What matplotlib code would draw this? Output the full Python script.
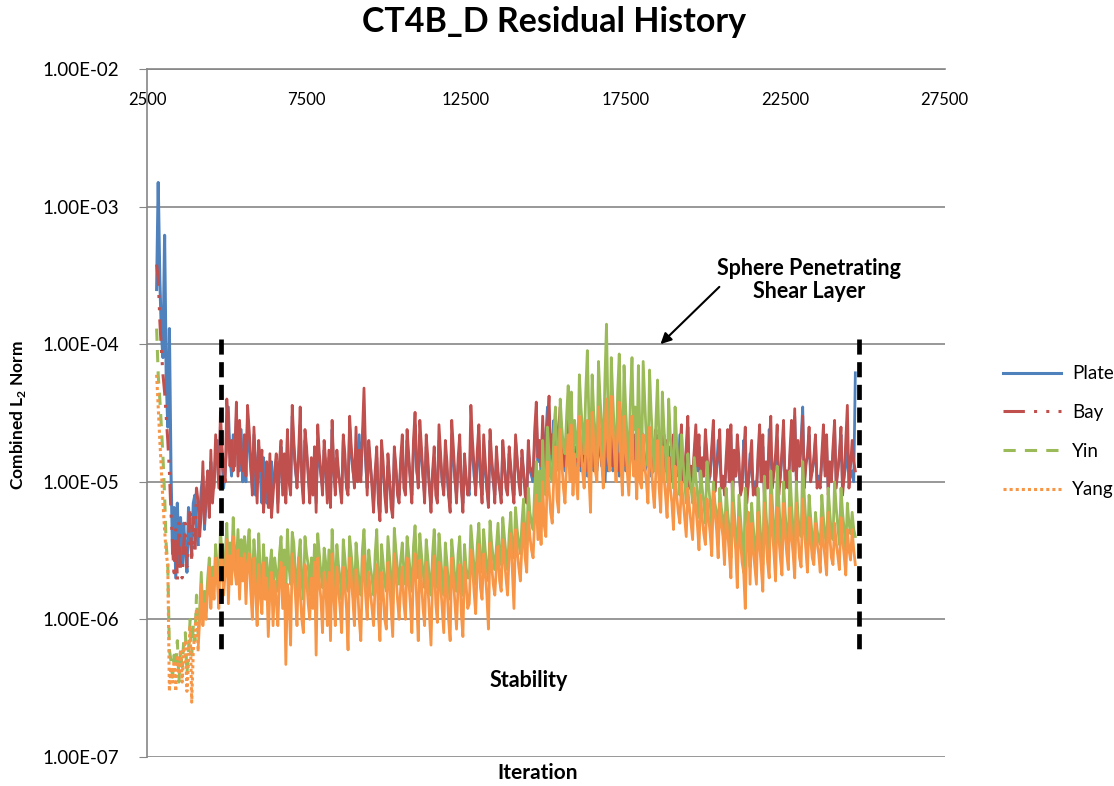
import numpy as np
import matplotlib.pyplot as plt
from matplotlib.ticker import FuncFormatter, NullLocator

plt.rcParams['font.family'] = ['Lato', 'DejaVu Sans']
plt.rcParams['mathtext.fontset'] = 'custom'
plt.rcParams['mathtext.rm'] = 'Lato'
plt.rcParams['mathtext.bf'] = 'Lato:bold'

# one sample every 50 iterations
iteration = np.arange(2800, 24701, 50)

# residuals in units of 1e-6 (one row = 1000 iterations)
plate = [
    250, 1500, 300, 120, 80, 620, 60, 25, 130, 12, 3.0, 6.5, 2.0, 7, 2.5, 5.5,
    2.5, 5, 3, 2.2, 6.5, 4, 3, 7, 8, 4.5, 3.5, 6, 9, 11, 4.5, 7, 12, 6, 14, 9,
    9, 16, 20, 11, 26, 14, 9, 12, 18, 35, 15, 11, 22, 13, 30, 19, 12, 24, 10, 16,
    10, 30, 18, 12, 9, 22, 8, 14, 18, 11, 7, 15, 10, 7, 13, 6.5, 14, 9, 11, 14,
    7, 12, 18, 9, 14, 8, 22, 11, 9, 30, 17, 12, 10, 14, 26, 11, 8, 20, 16, 12,
    8, 13, 9, 16, 7, 20, 14, 11, 9, 17, 12, 8, 15, 7.5, 24, 12, 9, 15, 11, 10,
    8, 20, 14, 10, 9, 25, 16, 12, 10, 15, 11, 22, 11, 20, 30, 14, 9, 18, 13, 10,
    7, 11, 15, 8, 6, 17, 12, 9, 7, 13, 10, 7.5, 6.5, 16, 12, 9, 8, 13, 18, 10,
    9, 20, 14, 11, 8, 17, 26, 12, 10, 22, 15, 11, 8, 18, 13, 9, 7, 11, 15, 9,
    8, 20, 14, 10, 9, 16, 12, 8, 7, 22, 15, 10, 8, 13, 18, 9, 7, 14, 10, 9,
    8, 24, 16, 11, 9, 14, 20, 10, 8, 17, 12, 9, 7, 20, 13, 10, 8, 15, 11, 9,
    8, 18, 13, 10, 9, 16, 12, 10, 8, 20, 14, 11, 9, 15, 12, 9, 8, 17, 12, 11,
    10, 20, 30, 14, 18, 12, 25, 13, 22, 35, 11, 15, 19, 28, 12, 14, 21, 30, 14, 16,
    12, 25, 18, 14, 22, 11, 16, 13, 19, 26, 12, 14, 16, 22, 11, 13, 20, 15, 12, 13,
    12, 16, 22, 13, 20, 10, 15, 12, 17, 24, 12, 13, 15, 20, 11, 12, 22, 16, 12, 13,
    12, 22, 16, 13, 15, 20, 11, 12, 16, 22, 12, 13, 20, 15, 11, 12, 16, 22, 12, 13,
    11, 20, 15, 12, 14, 18, 10, 11, 15, 20, 11, 12, 22, 15, 10, 11, 16, 25, 9, 12,
    10, 15, 22, 12, 18, 9, 13, 11, 20, 14, 10, 11, 16, 24, 9, 12, 20, 14, 10, 11,
    9, 13, 18, 10, 22, 8, 15, 11, 17, 12, 9, 10, 20, 14, 8, 10, 16, 12, 9, 10,
    9, 14, 20, 10, 18, 8, 13, 10, 24, 16, 10, 12, 14, 20, 9, 11, 15, 22, 10, 12,
    10, 15, 22, 12, 30, 11, 18, 13, 20, 35, 10, 14, 15, 22, 11, 12, 14, 20, 10, 11,
    10, 14, 20, 12, 18, 9, 13, 11, 16, 24, 10, 12, 15, 22, 9, 11, 13, 18, 10, 11,
    12, 10, 62,
]
bay = [
    380, 300, 150, 90, 60, 45, 30, 20, 12, 6, 3.5, 2.0, 4.5, 1.9, 5.0, 2.2,
    2.0, 3.5, 5, 2.4, 3.5, 6.5, 2.6, 5.5, 3, 9, 7, 4, 6, 14, 5, 8, 12, 5.5, 17, 7,
    10, 22, 14, 9, 32, 18, 12, 10, 40, 25, 13, 20, 12, 16, 38, 11, 28, 14, 12, 22,
    11, 36, 24, 15, 8, 25, 13, 7, 20, 12, 17, 6, 9, 14, 6.5, 16, 5.5, 8, 12, 16,
    6, 14, 20, 8, 16, 7, 24, 10, 8, 36, 20, 13, 9, 16, 35, 10, 7, 24, 18, 11,
    7, 15, 8, 18, 6, 26, 16, 12, 8, 20, 14, 7, 17, 6.5, 28, 13, 8, 17, 12, 9,
    7, 22, 16, 9, 8, 30, 18, 13, 9, 25, 10, 17, 10, 22, 48, 16, 8, 20, 14, 9,
    6, 12, 18, 7, 5.2, 20, 14, 8, 6, 16, 11, 6.5, 5.5, 18, 13, 8, 7, 15, 22, 9,
    8, 24, 16, 10, 7, 20, 32, 13, 9, 28, 18, 11, 7, 22, 15, 9, 6, 12, 18, 8,
    7, 26, 16, 10, 8, 20, 14, 8, 6, 28, 18, 11, 7, 15, 22, 9, 6, 16, 11, 8,
    9, 36, 20, 13, 8, 17, 26, 11, 7, 22, 14, 9, 6.5, 24, 15, 11, 7, 18, 12, 9,
    7, 20, 14, 9, 8, 18, 13, 9, 7, 22, 15, 10, 8, 17, 12, 8, 7, 20, 13, 12,
    11, 24, 38, 15, 20, 13, 30, 14, 12, 26, 42, 16, 22, 14, 33, 15, 24, 35, 15, 17,
    13, 20, 28, 15, 25, 12, 18, 14, 21, 28, 13, 15, 24, 12, 17, 14, 22, 13, 16, 14,
    13, 18, 24, 14, 11, 16, 22, 13, 18, 26, 13, 14, 22, 12, 16, 13, 17, 24, 13, 14,
    13, 17, 24, 14, 22, 12, 16, 13, 24, 17, 13, 14, 16, 22, 12, 13, 17, 24, 13, 14,
    12, 16, 22, 13, 20, 11, 15, 12, 22, 16, 12, 13, 17, 26, 10, 12, 18, 30, 9, 13,
    11, 17, 26, 13, 22, 9, 15, 11, 24, 16, 10, 12, 18, 28, 8.5, 13, 16, 24, 9, 11,
    8, 15, 24, 10, 26, 7, 17, 11, 22, 15, 8, 9, 16, 25, 7, 10, 14, 20, 8, 9,
    8, 16, 26, 10, 22, 7.5, 14, 9, 18, 30, 9, 12, 16, 26, 8, 11, 17, 28, 9, 12,
    9, 17, 28, 12, 34, 10, 20, 13, 18, 30, 9, 13, 16, 25, 10, 12, 15, 22, 9, 10,
    9, 16, 26, 11, 22, 8, 14, 10, 18, 28, 9, 12, 16, 25, 8, 11, 20, 36, 9, 13,
    20, 14, 12,
]
yin = [
    130, 60, 40, 25, 15, 8, 3.5, 2.5, 0.6, 0.5, 0.38, 0.55, 0.45, 0.7, 0.35, 0.6,
    0.45, 0.7, 0.8, 0.4, 0.6, 1.0, 0.55, 0.9, 0.7, 1.5, 0.8, 1.2, 2.2, 1.0, 1.6, 1.2, 2.0, 2.8, 1.5, 2.4,
    1.8, 3.5, 2.4, 1.6, 4.5, 3.0, 2.0, 2.8, 5, 2.2, 3.6, 2.4, 5.5, 3.0, 2.5, 4.5, 2.2, 3.8, 2.6, 4.0,
    2.0, 3.5, 4.5, 2.4, 1.8, 3.8, 2.6, 1.5, 4.2, 2.2, 1.6, 3.5, 2.0, 2.8, 1.3, 2.4, 3.2, 1.6, 2.8, 2.2,
    1.6, 3.0, 4.0, 2.0, 3.2, 1.5, 4.5, 2.4, 1.8, 4.3, 3.6, 2.2, 1.6, 2.8, 3.8, 1.9, 1.4, 4.0, 3.0, 2.5,
    1.5, 2.8, 1.8, 3.5, 1.3, 4.2, 3.0, 2.2, 1.7, 3.3, 2.6, 1.5, 3.2, 1.2, 4.5, 2.4, 1.5, 3.5, 2.5, 2.0,
    1.4, 3.8, 2.8, 2.0, 1.6, 4.0, 3.0, 2.2, 1.3, 3.6, 2.6, 1.8, 1.5, 3.2, 4.5, 2.4, 1.7, 3.2, 2.4, 2.0,
    1.5, 3.0, 4.5, 2.0, 1.4, 3.5, 2.6, 1.8, 1.6, 4.0, 2.8, 2.0, 1.3, 4.6, 3.2, 2.3, 1.8, 2.7, 3.6, 2.2,
    1.8, 4.0, 3.0, 2.2, 1.6, 3.4, 4.8, 2.5, 2.0, 4.2, 3.0, 2.2, 1.7, 3.8, 2.8, 2.0, 1.5, 3.0, 4.5, 2.4,
    1.7, 4.2, 3.0, 2.0, 1.5, 3.6, 2.6, 1.8, 1.4, 3.8, 2.8, 2.0, 1.6, 3.0, 4.0, 2.1, 1.5, 3.5, 2.4, 2.0,
    2.0, 4.8, 3.4, 2.4, 1.8, 3.5, 5.0, 2.6, 2.2, 4.5, 3.2, 2.4, 1.9, 5.2, 3.6, 2.8, 2.3, 3.4, 5.0, 2.8,
    2.5, 5.5, 4.0, 3.0, 2.3, 4.2, 6.0, 3.2, 2.8, 6.5, 4.5, 3.6, 3.0, 5.0, 7.5, 4.0, 3.5, 9.0, 6.0, 5.0,
    4.5, 9, 14, 6, 12, 6, 20, 9, 8, 25, 16, 11, 10, 22, 35, 15, 12, 40, 25, 18,
    16, 30, 50, 22, 45, 14, 28, 20, 15, 60, 35, 24, 16, 45, 90, 28, 15, 60, 32, 22,
    14, 75, 40, 25, 15, 55, 140, 30, 13, 80, 40, 22, 14, 45, 85, 25, 13, 70, 35, 20,
    13, 40, 80, 24, 35, 14, 70, 22, 12, 75, 38, 20, 13, 65, 32, 19, 12, 28, 55, 18,
    11, 45, 25, 16, 10, 40, 22, 15, 9, 35, 20, 13, 8, 22, 14, 10, 7, 16, 11, 9,
    7, 15, 11, 8, 5.5, 12, 9, 7, 5, 14, 9.5, 7, 4.5, 10, 7, 6, 4, 9, 6.5, 5.5,
    3.5, 9, 6, 4.5, 2.8, 10, 6.5, 4.2, 2.5, 8, 5.5, 3.8, 2.2, 9, 6, 4, 2.4, 7, 4.8, 3.5,
    2.6, 9, 5.5, 3.5, 2.5, 11, 6, 4, 3.0, 12, 7, 4.5, 2.8, 13, 7.5, 4.5, 3.2, 10, 6, 4.2,
    3.5, 12, 7, 4.5, 3.0, 10, 6, 4.2, 4, 14, 8, 5, 3.2, 8, 5.5, 4, 3, 6, 4.5, 3.8,
    3.5, 8, 5.5, 4.2, 3.2, 9, 6, 4.2, 3.8, 10, 6.5, 4.8, 3.5, 9, 6, 4.5, 3.2, 7, 5, 4.2,
    6, 4.5, 4,
]
yang = [
    60, 35, 20, 12, 7, 4.5, 3.0, 2.5, 0.3, 0.45, 0.35, 0.5, 0.3, 0.55, 0.4, 0.6,
    0.35, 0.6, 0.7, 0.3, 0.5, 0.9, 0.25, 0.6, 0.8, 1.2, 0.6, 1.0, 1.8, 0.9, 1.3, 1.0, 1.6, 2.4, 1.2, 2.0,
    1.4, 2.8, 1.9, 1.2, 3.5, 2.4, 1.5, 2.2, 3.8, 1.3, 2.9, 1.8, 4.0, 2.3, 1.8, 3.2, 1.4, 2.8, 1.9, 3.0,
    1.3, 2.6, 3.0, 1.6, 1.0, 2.8, 1.7, 0.9, 2.5, 1.5, 1.1, 2.6, 1.4, 2.0, 0.75, 1.6, 2.2, 0.9, 1.9, 1.4,
    0.9, 2.0, 2.6, 1.2, 2.4, 0.47, 1.8, 1.4, 0.65, 3.0, 2.2, 1.5, 0.9, 2.8, 1.6, 1.0, 0.8, 2.5, 2.0, 1.3,
    1.0, 2.0, 1.2, 2.6, 0.55, 2.8, 1.9, 1.4, 0.8, 2.2, 1.8, 0.9, 2.2, 0.7, 3.0, 1.5, 0.9, 2.4, 1.7, 1.2,
    0.8, 2.4, 1.8, 1.2, 0.6, 2.8, 2.0, 1.4, 0.9, 2.3, 1.7, 1.0, 0.7, 2.1, 2.9, 1.5, 1.0, 2.2, 1.6, 1.2,
    0.9, 1.8, 2.5, 1.1, 0.7, 2.2, 1.6, 1.0, 0.85, 2.6, 1.9, 1.2, 0.75, 3.0, 2.2, 1.4, 1.0, 1.7, 2.4, 1.3,
    1.0, 2.8, 2.0, 1.3, 0.8, 2.2, 3.0, 1.4, 0.7, 2.7, 1.9, 1.2, 0.9, 2.6, 1.8, 1.1, 0.65, 2.0, 2.9, 1.3,
    0.95, 2.6, 1.8, 1.2, 0.8, 2.4, 1.7, 1.0, 0.7, 2.8, 2.0, 1.3, 0.85, 1.8, 2.5, 1.1, 0.75, 2.6, 1.8, 1.2,
    1.3, 3.2, 2.4, 1.6, 1.1, 2.4, 3.5, 1.7, 1.4, 3.0, 2.2, 1.5, 0.85, 3.6, 2.5, 1.8, 1.5, 2.4, 3.4, 1.9,
    1.6, 3.8, 2.8, 2.0, 1.5, 3.0, 4.2, 2.2, 1.2, 4.5, 3.2, 2.4, 1.9, 3.4, 5.0, 2.8, 2.2, 6.0, 4.0, 3.2,
    2.8, 5.5, 8, 3.8, 7, 3.5, 10, 4.8, 4, 14, 9, 6, 5, 11, 18, 7.5, 6, 24, 14, 9,
    7, 14, 22, 10, 26, 8, 16, 11, 7.5, 30, 18, 12, 9, 17, 28, 11, 6, 32, 20, 12,
    10, 35, 20, 14, 9, 22, 40, 15, 12, 42, 24, 16, 10, 22, 38, 14, 8, 30, 18, 12,
    8, 16, 30, 11, 14, 7.5, 24, 10, 9, 22, 13, 10, 7, 25, 14, 9, 6.5, 12, 20, 9,
    6, 18, 11, 8, 5.5, 15, 9, 7, 4.5, 13, 8, 6, 5, 10, 7.5, 5.5, 4, 9, 6.5, 5,
    3.8, 9, 6.5, 4.8, 3.2, 8, 5.5, 4.2, 3.5, 7.5, 5.5, 4.2, 2.9, 8.5, 6, 4.5, 2.8, 7, 5, 4,
    2.5, 6, 4.2, 3.0, 2.0, 7, 4.5, 3.2, 1.7, 5.5, 3.8, 2.6, 2.2, 1.2, 4.0, 6, 1.8, 5, 3.2, 2.4,
    1.8, 6, 3.5, 2.4, 1.6, 7, 4, 2.6, 2.0, 8, 4.5, 3.0, 1.9, 6.5, 4, 2.8, 2.1, 7, 4.2, 3.0,
    2.3, 6.5, 4, 3.0, 2.0, 7, 4.2, 2.8, 2.4, 7.5, 4.5, 3.2, 2.2, 5.5, 3.8, 2.8, 2.5, 5, 3.6, 3.0,
    2.2, 5.5, 3.6, 2.8, 2.1, 6, 4, 2.8, 2.5, 5, 3.6, 2.9, 2.3, 5.5, 3.8, 2.9, 2.1, 4.5, 3.2, 2.7,
    4.5, 3.2, 2.5,
]

series = [
    ('Plate', plate, '#4F81BD', '-'),
    ('Bay', bay, '#C0504D', (0, (7, 3, 1, 3, 1, 3))),
    ('Yin', yin, '#9BBB59', (0, (4, 3))),
    ('Yang', yang, '#F79646', (0, (1, 1))),
]

fig = plt.figure(figsize=(11.14, 7.86), dpi=100)
ax = fig.add_axes([0.132, 0.037, 0.716, 0.875])

# the sparse start-up drop shows the dash styles; the dense band reads as solid
n_early = 26
for name, vals, col, ls in series:
    y = np.array(vals) * 1e-6
    ax.plot(iteration[:n_early + 1], y[:n_early + 1], color=col, lw=2.2, ls=ls, label=name)
    ax.plot(iteration[n_early:], y[n_early:], color=col, lw=2.0, ls='-')

# stability window markers
for xv in [4830, 24800]:
    ax.plot([xv, xv], [1.1e-4, 5.5e-7], color='black', lw=3.4, ls=(0, (3.2, 1.6)))

ax.set_yscale('log')
ax.set_ylim(1e-7, 1e-2)
ax.set_xlim(2500, 27500)
ax.set_yticks([1e-7, 1e-6, 1e-5, 1e-4, 1e-3, 1e-2])
ax.yaxis.set_minor_locator(NullLocator())
ax.yaxis.set_major_formatter(FuncFormatter(lambda v, p: '%.2E' % v))
ax.xaxis.tick_top()
ax.set_xticks(range(2500, 27501, 5000))
ax.tick_params(axis='x', length=0, pad=-28, labelsize=12)
ax.tick_params(axis='y', length=6, color='#868686', pad=14, labelsize=13.5)
ax.yaxis.grid(True, color='#868686', lw=1.2)
ax.set_axisbelow(True)
for s in ['right', 'bottom']:
    ax.spines[s].set_visible(False)
for s in ['top', 'left']:
    ax.spines[s].set_color('#868686')
    ax.spines[s].set_linewidth(1.2)

ax.text(14470, 3.6e-7, 'Stability', ha='center', va='center', fontweight='bold', fontsize=15.5)
ax.text(23250, 2.93e-4, 'Sphere Penetrating\nShear Layer', ha='center', va='center',
        fontweight='bold', fontsize=15.5, linespacing=1.15)
ax.annotate('', xy=(18530, 0.97e-4), xytext=(20500, 2.7e-4),
            arrowprops=dict(arrowstyle='-|>', color='black', lw=1.5, mutation_scale=16))

fig.text(0.497, 0.972, 'CT4B_D Residual History', ha='center', va='center',
         fontweight='bold', fontsize=24.5)
fig.text(0.483, 0.017, 'Iteration', ha='center', va='center', fontweight='bold', fontsize=15)
fig.text(0.016, 0.472, 'Combined L$_\\mathbf{2}$ Norm', ha='center', va='center',
         rotation=90, fontweight='bold', fontsize=12.5)

fig.legend(loc='upper left', bbox_to_anchor=(0.9, 0.535), frameon=False, fontsize=13.5,
           handlelength=3.1, handletextpad=0.6, labelspacing=1.15, borderaxespad=0, borderpad=0)

fig.savefig('out.png', dpi=100)
